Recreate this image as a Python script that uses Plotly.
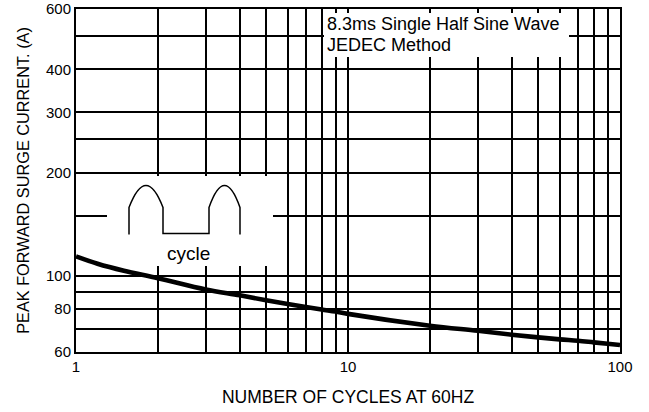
import plotly.graph_objects as go

# ---- data ----
cycles = [1, 1.2, 1.5, 2, 3, 4, 5, 6, 7, 8, 9, 10, 20, 30, 40, 50, 60, 70, 80, 90, 100]
current = [114, 108.5, 103.5, 98.5, 91.3, 87.8, 84.9, 82.8, 81.2, 79.8, 78.7, 77.5,
           71.6, 69.2, 67.4, 66.2, 65.3, 64.7, 64.0, 63.4, 62.9]

x_grid = [1, 2, 3, 4, 5, 6, 7, 8, 9, 10, 20, 30, 40, 50, 60, 70, 80, 90, 100]
x_labels = {1: "1", 10: "10", 100: "100"}
y_grid = [60, 70, 80, 90, 100, 150, 200, 250, 300, 400, 500, 600]
y_labels = {60: "60", 80: "80", 100: "100", 200: "200", 300: "300", 400: "400", 600: "600"}

X_MIN, X_MAX = 1, 100
Y_MIN, Y_MAX = 60, 600

W, H = 649, 412
ML, MR, MT, MB = 76, 29, 9, 60
PW, PH = W - ML - MR, H - MT - MB
FONT = "Arial, 'Liberation Sans', sans-serif"


# layout helpers: pixel position -> paper fraction / axis value (for decorations only)
def px(x):
    return (x - ML) / PW


def py(y):
    return (H - MB - y) / PH


def xv(x):
    return X_MIN * (X_MAX / X_MIN) ** px(x)


def yv(y):
    return Y_MIN * (Y_MAX / Y_MIN) ** py(y)


fig = go.Figure()
fig.add_trace(go.Scatter(
    x=cycles, y=current, mode="lines",
    line=dict(color="black", width=4.6, shape="spline"),
    showlegend=False, hoverinfo="skip",
))

shapes = []
# white panels (between gridlines and the curve)
shapes.append(dict(type="rect", xref="x", yref="y",
                   x0=xv(107), x1=xv(273), y0=yv(266), y1=yv(176),
                   fillcolor="white", line=dict(width=0), layer="between"))
shapes.append(dict(type="rect", xref="x", yref="y",
                   x0=xv(324), x1=xv(569), y0=yv(57), y1=yv(13),
                   fillcolor="white", line=dict(width=0), layer="between"))

# waveform sketch (two half-sine humps)
base = 215.5
sh = base - 8      # shoulder
pk = base - 30     # peak
lb = base + 19     # leg bottom
rb = base + 18     # valley bottom


def P(x, y):
    return f"{px(x):.5f},{py(y):.5f}"


def hump(x0, x1):
    xm = (x0 + x1) / 2
    return f" Q {P(xm, 2 * pk - sh)} {P(x1, sh)}"


path = (f"M {P(129, lb)} L {P(129, sh)}" + hump(129, 163) +
        f" L {P(163, rb)} L {P(209, rb)} L {P(209, sh)}" + hump(209, 240) +
        f" L {P(240, lb)}")
shapes.append(dict(type="path", xref="paper", yref="paper", path=path,
                   line=dict(color="black", width=1.5), layer="above"))

annotations = [
    dict(text="cycle", x=px(188), y=py(253), xref="paper", yref="paper",
         showarrow=False, font=dict(size=19, color="black", family=FONT),
         xanchor="center", yanchor="middle"),
    dict(text="8.3ms Single Half Sine Wave", x=px(325), y=py(24), xref="paper", yref="paper",
         showarrow=False, font=dict(size=18, color="black", family=FONT),
         xanchor="left", yanchor="middle"),
    dict(text="JEDEC Method", x=px(325), y=py(45), xref="paper", yref="paper",
         showarrow=False, font=dict(size=18, color="black", family=FONT),
         xanchor="left", yanchor="middle"),
]

fig.update_layout(
    width=W, height=H,
    margin=dict(l=ML, r=MR, t=MT, b=MB, autoexpand=False),
    paper_bgcolor="white", plot_bgcolor="white",
    font=dict(family=FONT, color="black"),
    shapes=shapes, annotations=annotations,
    xaxis=dict(
        type="log", range=[0, 2],
        tickmode="array", tickvals=x_grid,
        ticktext=[x_labels.get(v, "") for v in x_grid],
        showgrid=True, gridcolor="black", gridwidth=2,
        showline=True, linecolor="black", linewidth=2, mirror=True,
        ticks="", tickfont=dict(size=15, family=FONT, color="black"),
        title=dict(text="NUMBER OF CYCLES AT 60HZ", standoff=17,
                   font=dict(size=17.5, family=FONT, color="black")),
        zeroline=False, automargin=False,
    ),
    yaxis=dict(
        type="log", range=[1.7781513, 2.7781513],
        tickmode="array", tickvals=y_grid,
        ticktext=[y_labels.get(v, "") for v in y_grid],
        showgrid=True, gridcolor="black", gridwidth=2,
        showline=True, linecolor="black", linewidth=2, mirror=True,
        ticks="", tickfont=dict(size=15, family=FONT, color="black"),
        title=dict(text="PEAK FORWARD SURGE CURRENT. (A)", standoff=12,
                   font=dict(size=16.3, family=FONT, color="black")),
        zeroline=False, automargin=False,
    ),
)

fig.write_html("out.html", config={"displayModeBar": False},
               post_script="document.body.style.margin='0';")
